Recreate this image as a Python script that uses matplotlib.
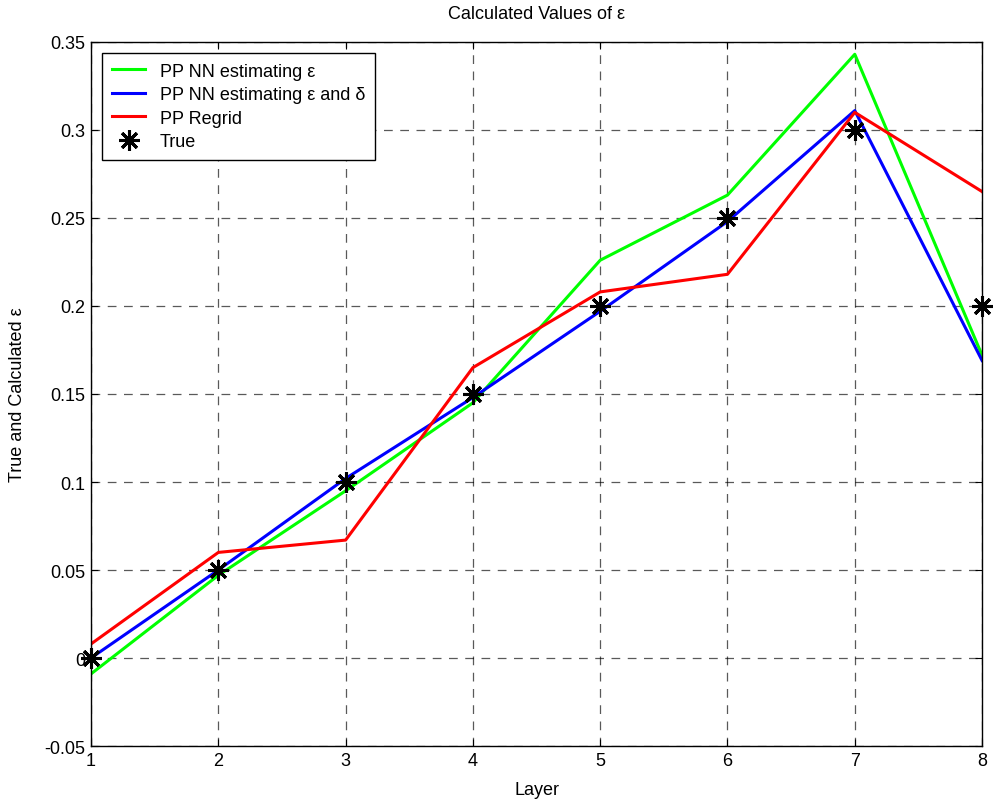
import numpy as np
import matplotlib
matplotlib.use("Agg")
import matplotlib.pyplot as plt

plt.rcParams['font.family'] = ['Liberation Sans', 'DejaVu Sans']

layers = [1, 2, 3, 4, 5, 6, 7, 8]
nn_eps = [-0.009, 0.047, 0.095, 0.145, 0.226, 0.263, 0.343, 0.172]
nn_eps_delta = [0.0, 0.050, 0.102, 0.148, 0.197, 0.248, 0.311, 0.169]
regrid = [0.008, 0.060, 0.067, 0.165, 0.208, 0.218, 0.310, 0.265]
true_vals = [0.0, 0.05, 0.10, 0.15, 0.20, 0.25, 0.30, 0.20]

fig = plt.figure(figsize=(9.95, 8.03), dpi=100)
ax = fig.add_axes([0.0915, 0.0697, 0.8955, 0.8768])

ax.plot(layers, nn_eps, color=(0, 1, 0), lw=2.2, label='PP NN estimating ε')
ax.plot(layers, nn_eps_delta, color=(0, 0, 1), lw=2.2, label='PP NN estimating ε and δ')
ax.plot(layers, regrid, color=(1, 0, 0), lw=2.2, label='PP Regrid')
ax.plot(layers, true_vals, ls='none', marker=(8, 2, 0), ms=15, mew=2.2,
        color='black', label='True', clip_on=False, zorder=5)

ax.set_xlim(1, 8)
ax.set_ylim(-0.05, 0.35)
ax.set_xticks(layers)
yt = [-0.05, 0, 0.05, 0.1, 0.15, 0.2, 0.25, 0.3, 0.35]
ax.set_yticks(yt)
ax.set_yticklabels(['-0.05', '0', '0.05', '0.1', '0.15', '0.2', '0.25', '0.3', '0.35'])
ax.tick_params(direction='in', labelsize=13, length=5, top=True, right=True, pad=4)
ax.grid(True, color='black', ls=(0, (7, 6)), lw=0.9, alpha=0.65)
for s in ax.spines.values():
    s.set_linewidth(1.0)

ax.set_xlabel('Layer', fontsize=13)
ax.set_ylabel('True and Calculated ε', fontsize=13)
ax.xaxis.set_label_coords(0.5, -0.05)
ax.yaxis.set_label_coords(-0.073, 0.5)
ax.set_title('Calculated Values of ε', fontsize=13, pad=17.5)

leg = ax.legend(loc='upper left', fontsize=13, fancybox=False, framealpha=1,
                edgecolor='black', borderaxespad=0.6, borderpad=0.55,
                handlelength=1.85, handletextpad=0.8, labelspacing=0.36)
leg.get_frame().set_linewidth(1.0)

fig.savefig('out.png', dpi=100)
